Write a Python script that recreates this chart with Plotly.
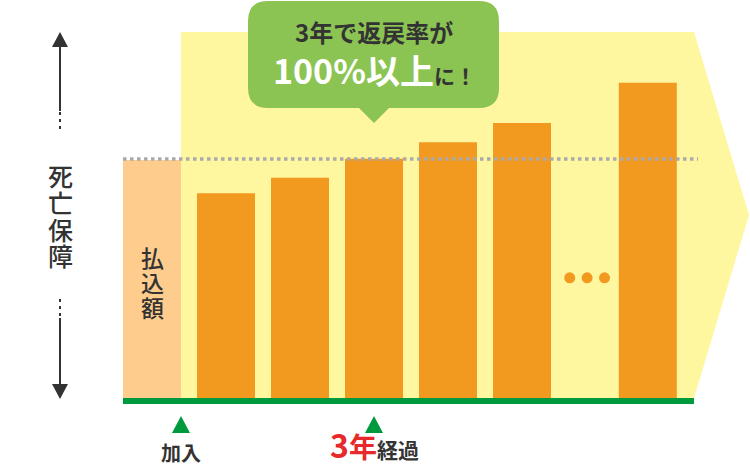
import plotly.graph_objects as go

# --- data ----------------------------------------------------------------
categories = ["払込額", "1年", "2年", "3年", "4年", "5年", "満期"]
rates = [100, 86, 92.5, 100.5, 107.5, 115.5, 132.5]   # % of 払込額
axis_label = "死亡保障"
paid_label = "払込額"
bubble_line1 = "3年で返戻率が"
bubble_big = "100%以上"
bubble_tail = "に！"
start_label = "加入"
mark_num = "3"
mark_unit = "年"
mark_tail = "経過"

# --- layout constants (pixels of the 750x467 picture) --------------------
W, H = 750, 467
BASE_PX = 398          # pixel row of value 0
PX_PER_PCT = 2.38      # pixel per 1 %
SLOT0_PX, SLOT_PX = 152, 74
slots = [0, 1, 2, 3, 4, 5, 6.7]
BAR_W = 58 / SLOT_PX

PEACH = "#fecd8d"
ORANGE = "#f2991f"
YELLOW = "#fff6a0"
GREEN = "#009a3e"
BUBBLE = "#8cc453"
DARK = "#333333"
RED = "#e8292b"
FONT = "Noto Sans CJK JP"


def px(x):
    return x / W


def py(y):
    return 1 - y / H


def path(points):
    return "M " + " L ".join(f"{px(x):.5f},{py(y):.5f}" for x, y in points) + " Z"


def note(x, y, text, size, color=DARK, weight=None, xref="paper"):
    f = dict(family=FONT, size=size, color=color)
    if weight:
        f["weight"] = weight
    return dict(x=x, y=py(y), xref=xref, yref="paper", text=text, showarrow=False,
                xanchor="center", yanchor="middle", font=f)


fig = go.Figure()

fig.add_trace(go.Bar(
    x=slots, y=rates, width=BAR_W,
    marker=dict(color=[PEACH] + [ORANGE] * (len(rates) - 1), line=dict(width=0)),
    hoverinfo="skip",
))

# the "..." between 5年 and the last bar
dots_x = (slots[5] + slots[6]) / 2 + 0.03
fig.add_trace(go.Scatter(
    x=[dots_x - 0.235, dots_x, dots_x + 0.235], y=[50.5] * 3, mode="markers",
    marker=dict(color=ORANGE, size=11), hoverinfo="skip",
))

shapes = []
# yellow arrow background
shapes.append(dict(type="path", xref="paper", yref="paper", layer="below",
                   path=path([(181, 32), (694, 32), (749, 215), (694, 398), (181, 398)]),
                   fillcolor=YELLOW, line=dict(width=0)))

# speech bubble
l, r, t, b, rad = 248, 499, 1, 108, 20
tip_x = SLOT0_PX + SLOT_PX * slots[3]
bubble_pts = (
    f"M {px(l + rad)},{py(t)} L {px(r - rad)},{py(t)} "
    f"Q {px(r)},{py(t)} {px(r)},{py(t + rad)} L {px(r)},{py(b - rad)} "
    f"Q {px(r)},{py(b)} {px(r - rad)},{py(b)} "
    f"L {px(tip_x + 15)},{py(b)} L {px(tip_x)},{py(b + 15)} L {px(tip_x - 15)},{py(b)} "
    f"L {px(l + rad)},{py(b)} Q {px(l)},{py(b)} {px(l)},{py(b - rad)} "
    f"L {px(l)},{py(t + rad)} Q {px(l)},{py(t)} {px(l + rad)},{py(t)} Z"
)
shapes.append(dict(type="path", xref="paper", yref="paper", layer="below",
                   path=bubble_pts, fillcolor=BUBBLE, line=dict(width=0)))

# dotted level line at 払込額
shapes.append(dict(type="line", xref="paper", yref="y", x0=px(123), x1=px(698),
                   y0=rates[0] + 0.4, y1=rates[0] + 0.4,
                   line=dict(color="#aaaaaa", width=3.5, dash="3.5px,3.5px")))

# green baseline
shapes.append(dict(type="rect", xref="paper", yref="paper",
                   x0=px(123), x1=px(694), y0=py(398), y1=py(404),
                   fillcolor=GREEN, line=dict(width=0)))

# vertical double arrow (死亡保障)
AX = 60
for y0, y1 in [(45, 111), (318, 386)]:
    shapes.append(dict(type="line", xref="paper", yref="paper", x0=px(AX), x1=px(AX),
                       y0=py(y0), y1=py(y1), line=dict(color=DARK, width=2)))
for y0, y1 in [(112, 131), (299, 317)]:
    shapes.append(dict(type="line", xref="paper", yref="paper", x0=px(AX), x1=px(AX),
                       y0=py(y0), y1=py(y1), line=dict(color=DARK, width=2, dash="3px,4px")))
shapes.append(dict(type="path", xref="paper", yref="paper",
                   path=path([(AX, 32), (AX + 8, 47), (AX - 8, 47)]),
                   fillcolor=DARK, line=dict(width=0)))
shapes.append(dict(type="path", xref="paper", yref="paper",
                   path=path([(AX, 399), (AX + 8, 384), (AX - 8, 384)]),
                   fillcolor=DARK, line=dict(width=0)))

# green triangles under the baseline
for cx in [181, tip_x]:
    shapes.append(dict(type="path", xref="paper", yref="paper",
                       path=path([(cx, 416), (cx + 9, 433), (cx - 9, 433)]),
                       fillcolor=GREEN, line=dict(width=0)))

annotations = []
# vertical texts, one glyph per line
for i, ch in enumerate(axis_label):
    annotations.append(note(px(AX), 175 + 26.8 * i, ch, 25, weight=500))
for i, ch in enumerate(paid_label):
    annotations.append(note(slots[0], 257 + 25 * i, ch, 23, weight=500, xref="x"))

# bubble texts
annotations.append(note(px(374), 31, f"<b>{bubble_line1}</b>", 24))
annotations.append(note(px(374), 69,
                        f"<b>{bubble_big}</b><span style='font-size:21px;color:{DARK}'><b>{bubble_tail}</b></span>",
                        34, color="white"))

# bottom labels
annotations.append(note(px(181), 452, f"<b>{start_label}</b>", 20))
annotations.append(note(px(374), 444,
                        f"<span style='font-size:32px;color:{RED}'><b>{mark_num}</b></span>"
                        f"<span style='font-size:28px;color:{RED}'><b>{mark_unit}</b></span><b>{mark_tail}</b>",
                        21))

fig.update_layout(
    width=W, height=H, margin=dict(l=0, r=0, t=0, b=0),
    paper_bgcolor="white", plot_bgcolor="rgba(0,0,0,0)",
    showlegend=False, hovermode=False,
    xaxis=dict(range=[-SLOT0_PX / SLOT_PX, (W - SLOT0_PX) / SLOT_PX], visible=False, fixedrange=True),
    yaxis=dict(range=[(BASE_PX - H) / PX_PER_PCT, BASE_PX / PX_PER_PCT], visible=False, fixedrange=True),
    shapes=shapes, annotations=annotations,
)

fig.write_html("out.html", config={"displayModeBar": False},
               post_script="document.body.style.margin='0px';document.body.style.overflow='hidden';")
